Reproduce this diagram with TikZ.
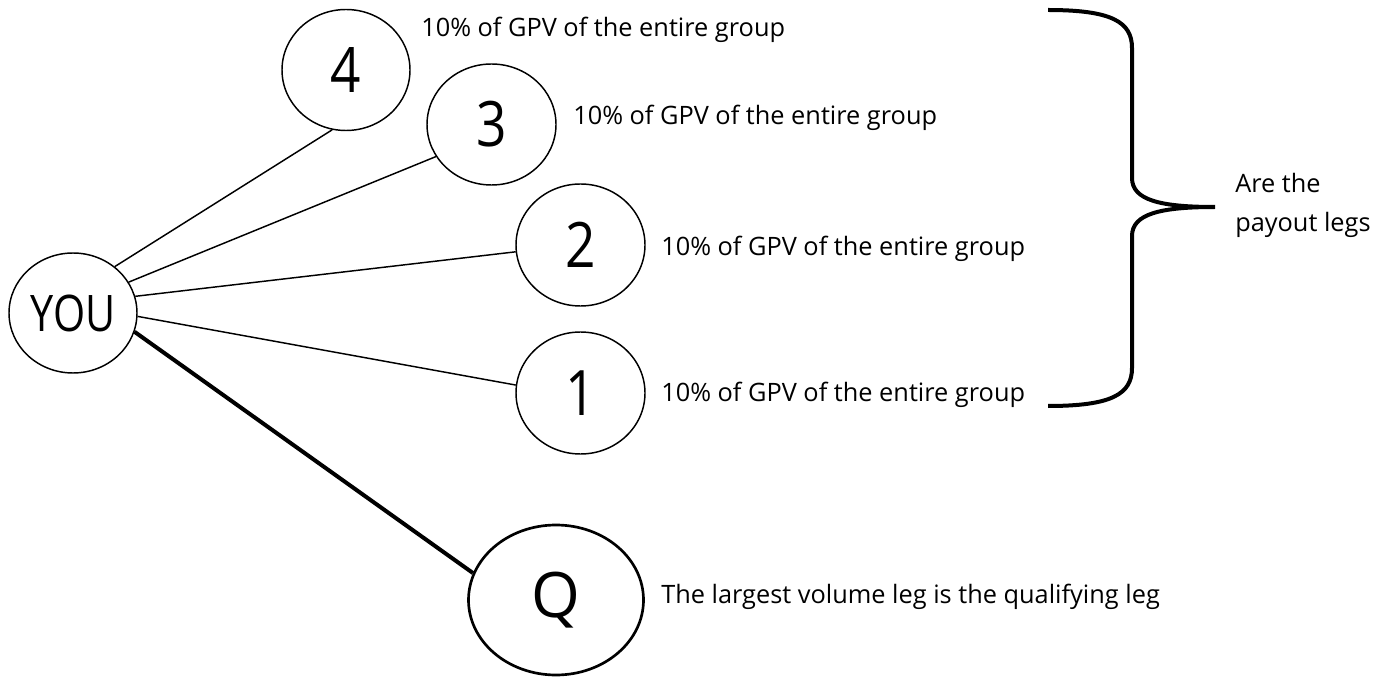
\documentclass[tikz,border=0pt]{standalone}
\usepackage{fontspec}
\setmainfont{Open Sans}
\usetikzlibrary{shapes.geometric}
\begin{document}
\begin{tikzpicture}[x=0.75pt,y=-0.75pt,
  ball/.style={shape=ellipse, draw, line width=1.1pt, inner sep=0pt, font=\fontsize{47}{50}\selectfont},
  leg/.style={line width=1.1pt},
  qleg/.style={line width=3pt},
  lbl/.style={anchor=base west, inner sep=0pt, font=\fontsize{19}{23}\selectfont}]
\fill[white] (0,0) rectangle (1389,677);
\useasboundingbox (0,0) rectangle (1389,677);
% circles
\node[ball, minimum width=96pt, minimum height=90pt, font=\fontsize{37.8}{40}\selectfont] (you) at (73,313) {\scalebox{0.82}[1]{YOU}};
\node[ball, minimum width=96pt, minimum height=90.75pt] (c4) at (346,70) {\scalebox{0.85}[1]{4}};
\node[ball, minimum width=96.75pt, minimum height=90.75pt] (c3) at (491.5,124.5) {\scalebox{0.85}[1]{3}};
\node[ball, minimum width=96.75pt, minimum height=91.5pt] (c2) at (580.5,245) {\scalebox{0.85}[1]{2}};
\node[ball, minimum width=96.75pt, minimum height=91.5pt] (c1) at (580.5,393) {\scalebox{0.85}[1]{1}};
\node[ball, line width=2pt, minimum width=131.25pt, minimum height=112.5pt] (q) at (556,600) {Q};
% connectors
\draw[leg] (you.48.8) -- (c4.257);
\draw[leg] (you.29.7) -- (c3.210.5);
\draw[leg] (you.15.7) -- (c2.186);
\draw[leg] (you.357.4) -- (c1.173);
\draw[qleg] (you.343) -- (q.162);
% labels
\node[lbl] (t4) at (421,37) {10\% of GPV of the entire group};
\node[lbl] (t3) at (573,125) {10\% of GPV of the entire group};
\node[lbl] (t2) at (661,256) {10\% of GPV of the entire group};
\node[lbl] (t1) at (661,401) {10\% of GPV of the entire group};
\node[lbl] (tq) at (661,603) {The largest volume leg is the qualifying leg};
% brace
\draw[line width=3pt] (1048,10) .. controls (1112,10) and (1132,22) .. (1132,48) -- (1132,178)
  .. controls (1132,200) and (1160,207) .. (1215,207)
  .. controls (1160,207) and (1132,214) .. (1132,236) -- (1132,368)
  .. controls (1132,394) and (1112,406) .. (1048,406);
\node[lbl] (pa) at (1235,193) {Are the};
\node[lbl] (pb) at (1235,232) {payout legs};
\end{tikzpicture}
\end{document}
